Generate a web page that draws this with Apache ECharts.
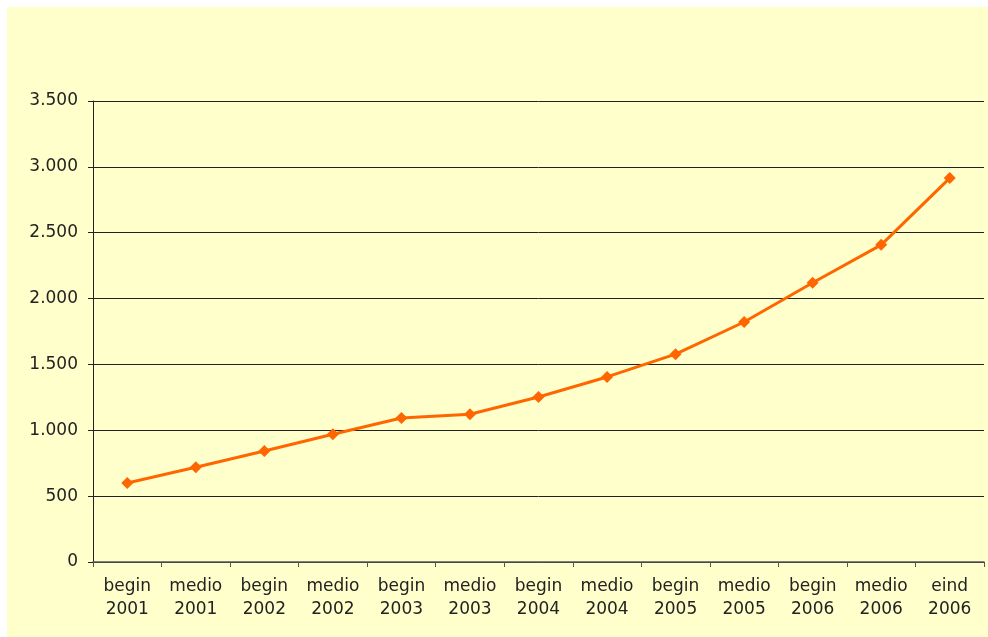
<!DOCTYPE html>
<html>
<head>
<meta charset="utf-8">
<script src="https://cdn.jsdelivr.net/npm/echarts@6/dist/echarts.min.js"></script>
<style>
    html, body { margin: 0; padding: 0; background: #ffffff; }
    #chart { position: absolute; left: 7px; top: 7px; width: 981px; height: 630px; background: #ffffcc; }
</style>
</head>
<body>
<div id="chart"></div>
<script>
    var categories = ['begin\n2001', 'medio\n2001', 'begin\n2002', 'medio\n2002', 'begin\n2003', 'medio\n2003',
        'begin\n2004', 'medio\n2004', 'begin\n2005', 'medio\n2005', 'begin\n2006', 'medio\n2006', 'eind\n2006']
    var values = [600, 720, 843, 970, 1093, 1122, 1253, 1405, 1578, 1822, 2120, 2408, 2915]

    var chart = echarts.init(document.getElementById('chart'), null, { renderer: 'canvas' })

    chart.setOption({
        animation: false,
        grid: {
            top: 94,
            right: 4,
            bottom: 75,
            left: 86
        },
        xAxis: {
            type: 'category',
            data: categories,
            boundaryGap: true,
            axisLine: { lineStyle: { color: '#555', width: 1.5 } },
            axisTick: { show: true, length: 5, lineStyle: { color: '#555' } },
            axisLabel: {
                color: '#222',
                fontFamily: 'DejaVu Sans',
                fontSize: 17,
                lineHeight: 23,
                margin: 13,
                interval: 0
            }
        },
        yAxis: {
            type: 'value',
            min: 0,
            max: 3500,
            interval: 500,
            axisLine: { show: true, lineStyle: { color: '#222', width: 1 } },
            axisTick: { show: true, length: 5, lineStyle: { color: '#222' } },
            splitLine: { lineStyle: { color: '#222', width: 1 } },
            axisLabel: {
                color: '#222',
                fontFamily: 'DejaVu Sans',
                fontSize: 17,
                margin: 15,
                formatter: function (v) {
                    return v >= 1000 ? Math.floor(v / 1000) + '.' + String(v % 1000).padStart(3, '0') : String(v)
                }
            }
        },
        series: [{
            type: 'line',
            data: values,
            symbol: 'diamond',
            symbolSize: 12,
            lineStyle: { color: '#ff6600', width: 3 },
            itemStyle: { color: '#ff6600' }
        }]
    })

    window.addEventListener('resize', () => {
        chart.resize()
    })
</script>
</body>
</html>
